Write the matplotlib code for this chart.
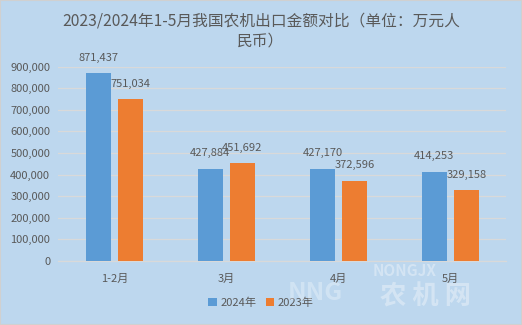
import matplotlib
matplotlib.use("Agg")
import matplotlib.pyplot as plt
import numpy as np
from matplotlib.patches import Rectangle

plt.rcParams['font.family'] = ['Noto Sans CJK SC', 'DejaVu Sans']

categories = ["1-2月", "3月", "4月", "5月"]
values_2024 = [871437, 427884, 427170, 414253]
values_2023 = [751034, 451692, 372596, 329158]
series_names = ["2024年", "2023年"]
yticks = [0, 100000, 200000, 300000, 400000, 500000, 600000, 700000, 800000, 900000]
title = "2023/2024年1-5月我国农机出口金额对比（单位：万元人\n民币）"

bg = "#BDD7EE"
blue = "#5B9BD5"
orange = "#ED7D31"
text_c = "#595959"

fig = plt.figure(figsize=(5.22, 3.25), dpi=100, facecolor=bg)
fig.patches.append(Rectangle((0, 0), 1, 1, transform=fig.transFigure,
                             fill=False, edgecolor="#D0D0D0", linewidth=1.5))
ax = fig.add_axes([0.112, 0.197, 0.858, 0.598])
ax.set_facecolor(bg)

x = np.arange(len(categories))
w = 0.223
gap = 0.0625
off = (w + gap) / 2
b1 = ax.bar(x - off, values_2024, w, color=blue, label=series_names[0], zorder=3)
b2 = ax.bar(x + off, values_2023, w, color=orange, label=series_names[1], zorder=3)

for bars, vals in ((b1, values_2024), (b2, values_2023)):
    for r, v in zip(bars, vals):
        ax.annotate(f"{v:,}", (r.get_x() + r.get_width() / 2, v),
                    xytext=(0, 11), textcoords="offset points",
                    ha="center", va="center", fontsize=8, color=text_c,
                    annotation_clip=False, zorder=5)

ax.set_xlim(-0.5, len(categories) - 0.5)
ax.set_ylim(0, 900000)
ax.set_yticks(yticks)
ax.set_yticklabels([f"{t:,}" for t in yticks], fontsize=8, color=text_c)
ax.set_xticks(x)
ax.set_xticklabels(categories, fontsize=8, color=text_c)
ax.tick_params(axis="both", length=0)
ax.tick_params(axis="x", pad=9)
ax.tick_params(axis="y", pad=6)
ax.grid(axis="y", color="#D9D9D9", linewidth=0.9, zorder=0)
for s in ["top", "right", "left"]:
    ax.spines[s].set_visible(False)
ax.spines["bottom"].set_color("#D9D9D9")
ax.spines["bottom"].set_linewidth(0.9)

fig.text(0.5, 0.905, title, ha="center", va="center", fontsize=11.3,
         color=text_c, linespacing=1.25)

leg = fig.legend(handles=[b1, b2], loc="center", bbox_to_anchor=(0.5, 0.068),
                 ncol=2, frameon=False, fontsize=8, handlelength=0.8,
                 handleheight=0.8, handletextpad=0.3, columnspacing=0.8)
for t in leg.get_texts():
    t.set_color(text_c)

# site watermark
fig.text(0.775, 0.165, "NONGJX", ha="center", va="center", fontsize=11,
         color="white", alpha=0.35, fontweight="bold", zorder=10)
fig.text(0.815, 0.085, "农 机 网", ha="center", va="center", fontsize=19,
         color="white", alpha=0.35, fontweight="bold", zorder=10)
fig.text(0.605, 0.1, "NNG", ha="center", va="center", fontsize=18,
         color="white", alpha=0.3, fontweight="bold", zorder=10)

fig.savefig("out.png", dpi=100, facecolor=bg)
